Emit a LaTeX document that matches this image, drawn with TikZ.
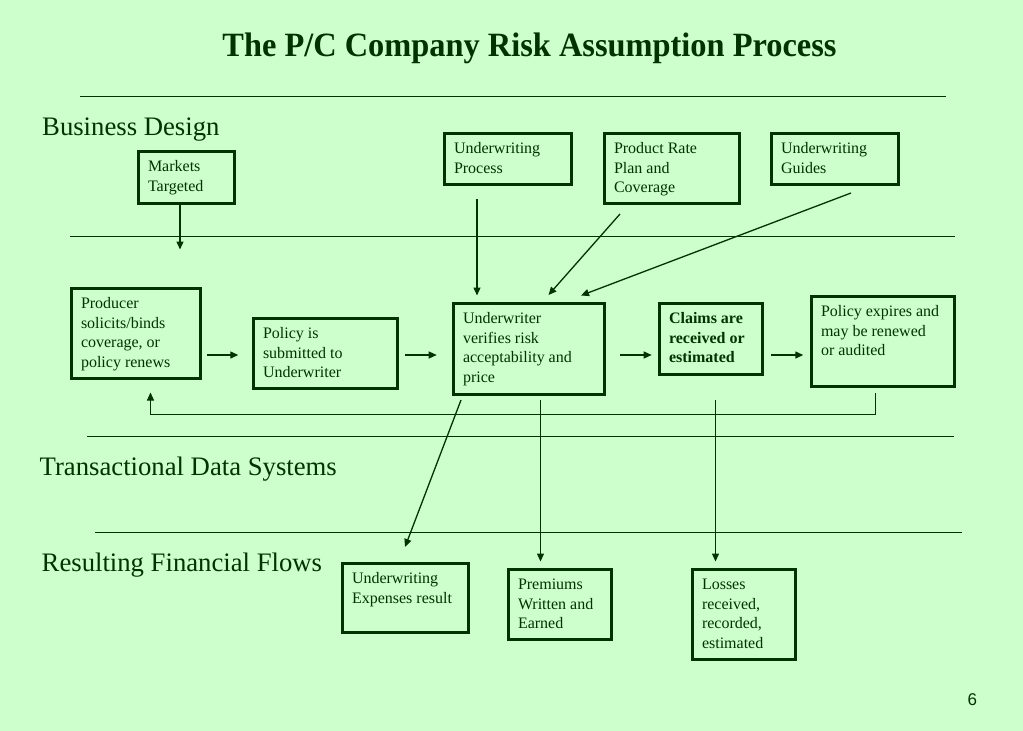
\documentclass[tikz,border=0pt]{standalone}
\usepackage{fontspec}
\setmainfont{Liberation Serif}
\newfontfamily\numfont{Liberation Sans}
\usetikzlibrary{arrows.meta,calc}
\definecolor{bg}{HTML}{CCFFCC}
\definecolor{dkgreen}{HTML}{003300}
\newcommand{\boxtext}[3]{\parbox[c][\dimexpr#2pt-3pt\relax][t]{\dimexpr#1pt-3pt\relax}{\raggedright\leftskip=9.5pt\vspace*{6.35pt}\strut#3}}

\begin{document}
\begin{tikzpicture}[x=1pt,y=-1pt,
    box/.style={draw=dkgreen,line width=3pt,anchor=north west,inner sep=0pt,text=dkgreen,font=\fontsize{16}{19.5}\selectfont},
    heading/.style={anchor=base west,inner sep=0pt,text=dkgreen,font=\fontsize{26.7}{32}\selectfont},
    rule/.style={draw=dkgreen,line width=1pt},
    arr/.style={draw=dkgreen,line width=1.3pt,-{Triangle[length=8pt,width=7pt]}}]
            \path[use as bounding box,fill=bg] (0,0) rectangle (1023,731);

            \node[anchor=base,inner sep=0pt,text=dkgreen,font=\fontsize{32.4}{38}\selectfont\bfseries] (title) at (529.5,56.5) {\scalebox{1}[1.05]{The P/C Company Risk Assumption Process}};
            \node[heading] (bd) at (42,135) {Business Design};
            \node[heading] (tds) at (39.5,475) {Transactional Data Systems};
            \node[heading] (rff) at (41.5,571) {Resulting Financial Flows};
            \node[anchor=base west,inner sep=0pt,text=dkgreen,font=\numfont\fontsize{17}{20}\selectfont] (pg) at (967.5,705) {6};

            \foreach \y/\a/\b in {96/80/946,236.5/70/955,436/87/954,532.5/95/962}{
                \draw[rule] (\a,\y) -- (\b,\y);
            }

            \node[box] (mkt) at (137,150) {\boxtext{99}{55}{Markets\\Targeted}};
            \node[box] (uwp) at (443,132) {\boxtext{130}{54}{Underwriting\\Process}};
            \node[box] (prc) at (603,132) {\boxtext{138}{73}{Product Rate\\Plan and\\Coverage}};
            \node[box] (gd) at (770,132) {\boxtext{130}{54}{Underwriting\\Guides}};
            \node[box] (prod) at (70,287) {\boxtext{132}{93}{Producer\\solicits/binds\\coverage, or\\policy renews}};
            \node[box] (pol) at (252,317) {\boxtext{147}{73}{Policy is\\submitted to\\Underwriter}};
            \node[box] (uw) at (452,302) {\boxtext{154}{94}{Underwriter\\verifies risk\\acceptability and\\price}};
            \node[box] (clm) at (658,302) {\boxtext{106}{74}{\bfseries Claims are\\received or\\estimated}};
            \node[box] (exp) at (810,295) {\boxtext{146}{93}{Policy expires and\\may be renewed\\or audited}};
            \node[box] (uwe) at (341,562) {\boxtext{129}{72}{Underwriting\\Expenses result}};
            \node[box] (prem) at (507,568) {\boxtext{106}{73}{Premiums\\Written and\\Earned}};
            \node[box] (loss) at (691,568) {\boxtext{106}{93}{Losses\\received,\\recorded,\\estimated}};

            \coordinate (mkt-in) at (180,249.5);
            \coordinate (flow) at (0,355);
            \draw[arr] (mkt.south -| mkt-in) -- (mkt-in);
            \draw[arr,shorten <=5pt,shorten >=13.7pt] (prod.east |- flow) -- (pol.west |- flow);
            \draw[arr,shorten <=6pt,shorten >=15.3pt] (pol.east |- flow) -- (uw.west |- flow);
            \draw[arr,shorten <=14pt,shorten >=6.3pt] (uw.east |- flow) -- (clm.west |- flow);
            \draw[arr,shorten <=7pt,shorten >=6.7pt] (clm.east |- flow) -- (exp.west |- flow);
            \draw[arr] ($(uwp.south west)+(34,13)$) -- ($(uw.north west)+(25,-6.5)$);
            \draw[arr] ($(prc.south west)+(17,9)$) -- ($(uw.north west)+(96.5,-7)$);
            \draw[arr] ($(gd.south west)+(81,7)$) -- ($(uw.north west)+(129,-6.5)$);
            \draw[arr] ($(uw.south west)+(9,4)$) -- ($(uwe.north west)+(64,-15)$);
            \draw[arr] ($(uw.south west)+(88.5,4)$) -- ($(prem.north west)+(33.5,-6.5)$);
            \draw[arr] ($(clm.south west)+(57.5,24)$) -- ($(loss.north west)+(24.5,-6.5)$);
            \draw[arr,line width=1pt] ($(exp.south west)+(65,5)$) -- ++(0,21) -| ($(prod.south west)+(80.5,12.5)$);
\end{tikzpicture}
\end{document}
